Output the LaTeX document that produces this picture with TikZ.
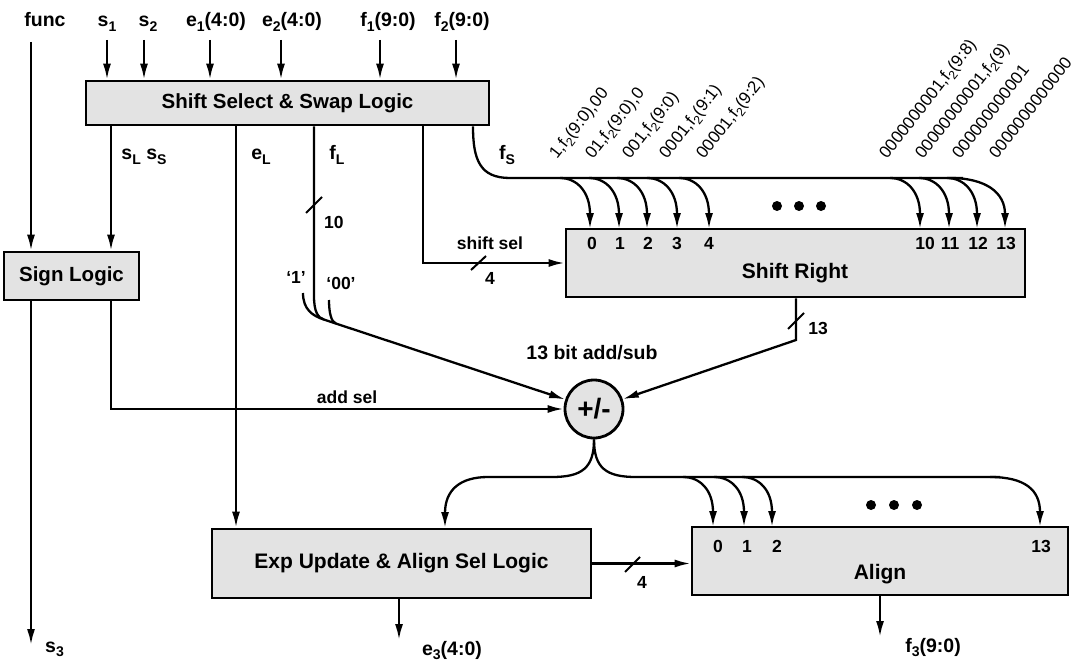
\documentclass[tikz,border=0pt]{standalone}
\usepackage{fontspec}
\setmainfont{Liberation Sans}
\usepackage{graphicx}
\usetikzlibrary{arrows.meta,calc}
\newcommand\lo[1]{\raisebox{-0.45ex}{\scalebox{0.72}{#1}}}
\tikzset{
  wire/.style={line width=2.3pt},
  arr/.style={line width=2.3pt,-{Latex[length=16pt,width=8pt]}},
  blk/.style={draw,line width=2.8pt,fill=black!11,inner sep=0pt,font=\bfseries\fontsize{20.5}{24}\selectfont},
  lbl/.style={inner sep=0pt,anchor=base,font=\bfseries\fontsize{19.5}{22}\selectfont},
  sml/.style={inner sep=0pt,font=\bfseries\fontsize{17.5}{20}\selectfont},
  inbox/.style={inner sep=0pt,font=\bfseries\fontsize{21}{24}\selectfont},
  rot/.style={inner sep=0pt,anchor=base west,rotate=52,font=\fontsize{17}{19}\selectfont},
  dotn/.style={circle,fill=black,inner sep=0pt,minimum size=10pt},
  slash/.style={line width=2pt},
}
\begin{document}
\begin{tikzpicture}[x=1pt,y=-1pt]
\useasboundingbox (0,0) rectangle (1078,663);
% ---------- blocks
\node[blk,minimum width=403pt,minimum height=44pt] (ssl) at (287.5,103) {Shift Select \& Swap Logic};
\node[blk,minimum width=135pt,minimum height=48pt] (sign) at (71.5,276) {Sign Logic};
\node[blk,minimum width=459pt,minimum height=68pt] (sr) at (795.5,263) {};
\node[blk,minimum width=379pt,minimum height=69pt,font=\bfseries\fontsize{21}{24}\selectfont] (exp) at (401.5,563.5) {Exp Update \& Align Sel Logic};
\node[blk,minimum width=376pt,minimum height=68pt] (al) at (880,561) {};
\node[blk,circle,minimum size=58pt,font=\bfseries\fontsize{28}{30}\selectfont] (add) at (594,409) {+/-};
\node[inbox] (srt) at (795,273) {Shift Right};
\node[inbox] (alt) at (880,574) {Align};
% numbers in boxes
\foreach \x/\t in {592/0,620/1,648/2,677/3,709/4,925/10,950/11,978/12,1006/13}
  \node[sml] (srn\t) at (\x,243) {\t};
\foreach \x/\t in {718/0,747/1,777/2,1041/13}
  \node[sml] (aln\t) at (\x,546) {\t};
% ---------- input labels
\node[lbl] (func) at (45,27) {func};
\node[lbl] (s1) at (107,27) {s\lo{1}};
\node[lbl] (s2) at (148,27) {s\lo{2}};
\node[lbl] (e1) at (216,27) {e\lo{1}(4:0)};
\node[lbl] (e2) at (292,27) {e\lo{2}(4:0)};
\node[lbl] (f1) at (388,27) {f\lo{1}(9:0)};
\node[lbl] (f2) at (462,27) {f\lo{2}(9:0)};
\foreach \n/\x in {s1/107,s2/144,e1/210,e2/281,f1/380,f2/456}{
  \coordinate (t\n) at (\x,40);
  \draw[arr] (t\n) -- (t\n |- ssl.north);
}
\coordinate (tfunc) at (31,42);
\draw[arr] (tfunc) -- (tfunc |- sign.north);
% ---------- outputs of shift select
\coordinate (xSL) at (111,0);
\coordinate (xEL) at (236,0);
\coordinate (xFL) at (314,0);
\coordinate (xSS) at (423,0);
\coordinate (xFS) at (473,0);
\draw[arr] (xSL |- ssl.south) -- (xSL |- sign.north);
\draw[arr] (xEL |- ssl.south) -- (xEL |- exp.north);
\node[lbl] (sLs) at (144,160) {s\lo{L} s\lo{S}};
\node[lbl] (eL) at (261,160) {e\lo{L}};
\node[lbl] (fLl) at (337,160) {f\lo{L}};
\node[lbl] (fSl) at (507,160) {f\lo{S}};
% f_L with constants
\coordinate (M) at (324,319.6);
\coordinate (M2) at (336,323.6);
\draw[wire] (xFL |- ssl.south) -- (314,296) .. controls (314,312) and (318,317.7) .. (M);
\draw[wire] (303,293) .. controls (303,309) and (312,315.7) .. (M);
\draw[wire] (329,300) .. controls (329,313) and (331.3,322) .. (M2);
\draw[arr] (M) -- (add);
\draw[slash] (306,213) -- (322,197);
\node[sml,anchor=west] (n10) at (324,222) {10};
\node[sml] (q1) at (296,277) {‘1’};
\node[sml] (q00) at (341,283) {‘00’};
% shift sel
\draw[arr] (xSS |- ssl.south) |- (sr.west);
\draw[slash] (471,270) -- (486,256);
\node[sml] (ssel) at (490,243) {shift sel};
\node[sml] (n4a) at (490,278) {4};
% f_S bus
\draw[wire] (xFS |- ssl.south) .. controls (473,160) and (480,178) .. (510,178) -- (963,178);
\foreach \x in {590,619,647,677,709,920,949,977}
  \draw[arr] (\x-30,178) .. controls (\x-13,178) and (\x,192) .. (\x,229);
\draw[arr] (950,178) .. controls (985,178) and (1005,192) .. (1005,229);
\foreach \x in {777,799,821} \node[dotn] at (\x,206) {};
% rotated labels
\node[rot] (r1) at (557,160) {1,f\lo{2}(9:0),00};
\node[rot] (r2) at (593,160) {01,f\lo{2}(9:0),0};
\node[rot] (r3) at (630,160) {001,f\lo{2}(9:0)};
\node[rot] (r4) at (667,160) {0001,f\lo{2}(9:1)};
\node[rot] (r5) at (704,160) {00001,f\lo{2}(9:2)};
\node[rot] (r6) at (887,160) {0000000001,f\lo{2}(9:8)};
\node[rot] (r7) at (923,160) {00000000001,f\lo{2}(9)};
\node[rot] (r8) at (960,160) {000000000001};
\node[rot] (r9) at (997,160) {0000000000000};
% shift right output
\coordinate (xSR) at (796,0);
\draw[arr] (xSR |- sr.south) -- (796,340) -- (add);
\draw[slash] (788,329) -- (804,313);
\node[sml] (n13) at (818,328) {13};
\node[lbl] (absub) at (592,359) {13 bit add/sub};
% sign logic outputs
\draw[arr] (xSL |- sign.south) |- (add.west);
\node[sml] (asel) at (347,397) {add sel};
\coordinate (xS3) at (31,0);
\draw[arr] (xS3 |- sign.south) -- (31,645);
\node[lbl,anchor=base west] (s3) at (45,652) {s\lo{3}};
% adder outputs
\draw[arr] (add.south) .. controls (594,468) and (582,477) .. (552,477) -- (488,477) .. controls (460,477) and (445,490) .. (445,528);
\draw[wire] (add.south) .. controls (594,468) and (606,477) .. (636,477) -- (1000,477);
\draw[arr] (990,477) .. controls (1025,477) and (1040,490) .. (1040,527);
\foreach \x in {713,744,772}
  \draw[arr] (\x-30,477) .. controls (\x-13,477) and (\x,490) .. (\x,527);
\foreach \x in {871,894,917} \node[dotn] at (\x,505) {};
% exp -> align
\draw[arr] (exp.east) -- (exp.east -| al.west);
\draw[slash] (625,572) -- (640,557);
\node[sml] (n4b) at (642,582) {4};
\coordinate (xE3) at (399,0);
\draw[arr] (xE3 |- exp.south) -- (399,640);
\node[lbl] (e3) at (452,655) {e\lo{3}(4:0)};
\coordinate (xF3) at (880,0);
\draw[arr] (xF3 |- al.south) -- (880,637);
\node[lbl] (f3) at (933,652) {f\lo{3}(9:0)};
\end{tikzpicture}
\end{document}
